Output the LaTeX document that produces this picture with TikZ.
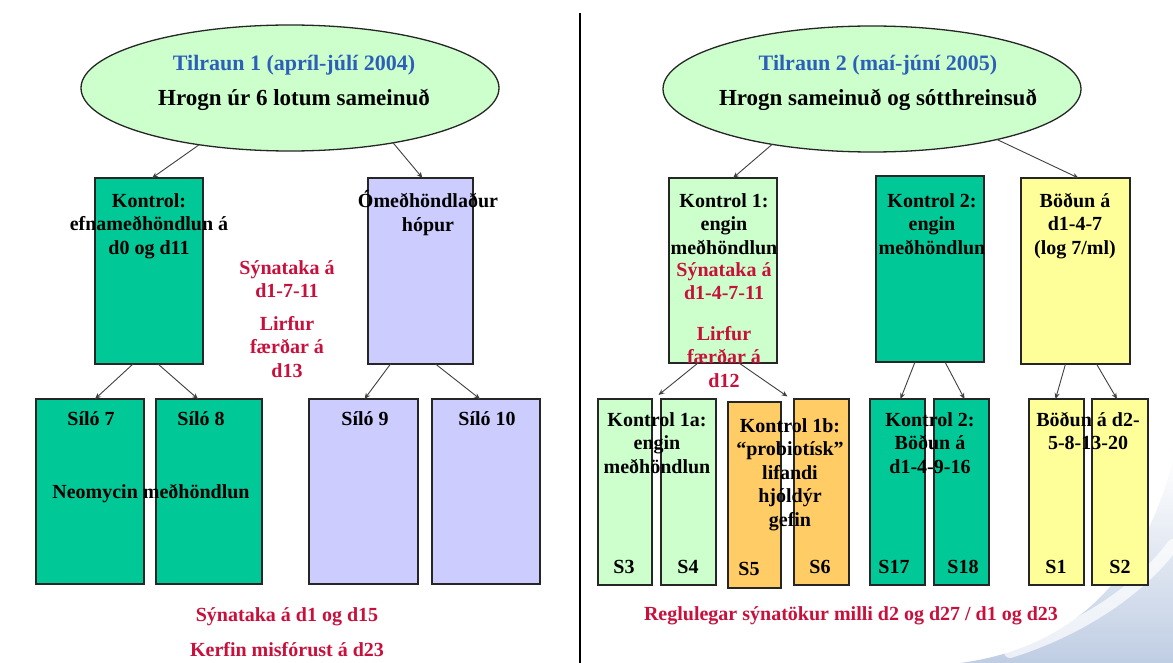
\documentclass[tikz,border=0pt]{standalone}
\usepackage{fontspec}
\setmainfont{Liberation Serif}
\usetikzlibrary{shapes.geometric,arrows.meta,calc}
\definecolor{tealg}{RGB}{0,200,150}
\definecolor{lav}{RGB}{204,204,255}
\definecolor{paleg}{RGB}{204,255,204}
\definecolor{orng}{RGB}{255,204,102}
\definecolor{yell}{RGB}{255,255,153}
\definecolor{redt}{RGB}{200,16,60}
\definecolor{bluet}{RGB}{45,95,185}
\definecolor{swirl}{RGB}{140,165,205}
\begin{document}
\begin{tikzpicture}[x=1pt,y=-1pt,
  ell/.style={ellipse, draw=black!85, line width=1.3pt, fill=paleg, minimum width=418pt, minimum height=126pt, inner sep=0pt, outer sep=0pt},
  box/.style={rectangle, draw=black!85, line width=1.3pt, inner sep=0pt, outer sep=0pt},
  bigbox/.style={box, minimum width=108pt, minimum height=186pt},
  slimbox/.style={box, minimum width=55pt, minimum height=186pt},
  bt/.style={font=\fontsize{20}{23.5}\selectfont\bfseries, align=center, inner sep=0pt, text=black},
  rt/.style={bt, text=redt},
  ttl/.style={font=\fontsize{22}{26}\selectfont\bfseries, text=bluet, anchor=base, inner sep=0pt},
  sub/.style={font=\fontsize{23}{27}\selectfont\bfseries, anchor=base, inner sep=0pt},
  arr/.style={draw=black!75, line width=0.9pt, -{Stealth[length=6pt,width=5pt]}},
  ]
\useasboundingbox (0,0) rectangle (1173,663);
\fill[white] (0,0) rectangle (1173,663);
% background swirl
\shade[top color=white, bottom color=swirl, opacity=0.55] (960,663) .. controls (1060,650) and (1140,590) .. (1173,460) -- (1173,663) -- cycle;
\draw[white, line width=12pt, opacity=0.7, line cap=round] (1010,652) .. controls (1080,630) and (1140,590) .. (1173,545);
% divider
\draw[line width=2pt] (580,13) -- (580,663);

% ---------- left experiment ----------
\node[ell] (e1) at (290,88) {};
\node[ttl] (t1) at (294,71) {Tilraun 1 (apríl-júlí 2004)};
\node[sub] (h1) at (294,106) {Hrogn úr 6 lotum sameinuð};

\node[bigbox, fill=tealg] (kon) at (149,271) {};
\node[bigbox, minimum width=105pt, fill=lav] (om) at (420.5,271) {};

\node[bigbox, minimum height=185pt, fill=tealg] (s7) at (90,491.5) {};
\node[bigbox, minimum width=106pt, minimum height=185pt, fill=tealg] (s8) at (209,491.5) {};
\node[bigbox, minimum width=109pt, minimum height=185pt, fill=lav] (s9) at (363.5,491.5) {};
\node[bigbox, minimum height=185pt, fill=lav] (s10) at (486,491.5) {};

\node[bt, anchor=north] (kontxt) at (149,190.5) {\strut Kontrol:\\efnameðhöndlun á\\d0 og d11};
\node[bt, anchor=north] (omtxt) at (428,190.5) {\strut Ómeðhöndlaður\\hópur};
\node[rt, anchor=north] (rl1) at (287,257.5) {\strut Sýnataka á\\d1-7-11};
\node[rt, anchor=north] (rl2) at (287,313.5) {\strut Lirfur\\færðar á\\d13};

\node[bt, anchor=base] (l7) at (91,425) {Síló 7};
\node[bt, anchor=base] (l8) at (201,425) {Síló 8};
\node[bt, anchor=base] (l9) at (365,425) {Síló 9};
\node[bt, anchor=base] (l10) at (487,425) {Síló 10};
\node[bt, anchor=base] (neo) at (151,498) {Neomycin meðhöndlun};

\node[rt, anchor=base] (bl1) at (287,621) {Sýnataka á d1 og d15};
\node[rt, anchor=base] (bl2) at (287,656) {Kerfin misfórust á d23};

\draw[arr] (e1.212) -- ($(kon.north)+(3,0)$);
\draw[arr] (e1.332) -- ($(om.north)+(2,0)$);
\draw[arr] ($(kon.south)+(-16,0)$) -- ($(s7.north)+(5,0)$);
\draw[arr] ($(kon.south)+(9,0)$) -- ($(s8.north)+(-11,0)$);
\draw[arr] ($(om.south)+(-30,0)$) -- ($(s9.north)+(1,0)$);
\draw[arr] ($(om.south)+(15,0)$) -- ($(s10.north)+(-6,0)$);

% ---------- right experiment ----------
\node[ell] (e2) at (872,89) {};
\node[ttl] (t2) at (878,71) {Tilraun 2 (maí-júní 2005)};
\node[sub] (h2) at (878,106) {Hrogn sameinuð og sótthreinsuð};

\node[bigbox, minimum height=185pt, fill=paleg] (k1) at (723,270.5) {};
\node[bigbox, fill=tealg] (k2) at (930,269) {};
\node[bigbox, minimum width=109pt, fill=yell] (bo) at (1075.5,271) {};

\node[slimbox, minimum width=54pt, fill=paleg] (s3) at (625,492) {};
\node[slimbox, fill=paleg] (s4) at (688.5,492) {};
\node[slimbox, minimum width=53pt, fill=orng] (s5) at (754.5,495) {};
\node[slimbox, fill=orng] (s6) at (821.5,492) {};
\node[slimbox, fill=tealg] (s17) at (897.5,492) {};
\node[slimbox, fill=tealg] (s18) at (961.5,492) {};
\node[slimbox, fill=yell] (s1) at (1056.5,492) {};
\node[slimbox, minimum width=56pt, fill=yell] (s2) at (1120,492) {};

\node[bt, anchor=north] (k1txt) at (724,190.5) {\strut Kontrol 1:\\engin\\meðhöndlun};
\node[rt, anchor=north] (rr1) at (724,259.5) {\strut Sýnataka á\\d1-4-7-11};
\node[rt, anchor=north] (rr2) at (724,323.5) {\strut Lirfur\\færðar á\\d12};
\node[bt, anchor=north] (k2txt) at (932,190.5) {\strut Kontrol 2:\\engin\\meðhöndlun};
\node[bt, anchor=north] (botxt) at (1075,190.5) {\strut Böðun á\\d1-4-7\\(log 7/ml)};

\node[bt, anchor=north] (t1a) at (657,409.5) {\strut Kontrol 1a:\\engin\\meðhöndlun};
\node[bt, anchor=north] (t1b) at (790,415.5) {\strut Kontrol 1b:\\“probiotísk”\\lifandi\\hjóldýr\\gefin};
\node[bt, anchor=north] (t2b) at (930,409.5) {\strut Kontrol 2:\\Böðun á\\d1-4-9-16};
\node[bt, anchor=north] (tbb) at (1088,409.5) {\strut Böðun á d2-\\5-8-13-20};

\node[bt, anchor=base] (n3) at (624,573) {S3};
\node[bt, anchor=base] (n4) at (688,573) {S4};
\node[bt, anchor=base] (n5) at (749,575) {S5};
\node[bt, anchor=base] (n6) at (820,573) {S6};
\node[bt, anchor=base] (n17) at (894,573) {S17};
\node[bt, anchor=base] (n18) at (963,573) {S18};
\node[bt, anchor=base] (n1) at (1056,573) {S1};
\node[bt, anchor=base] (n2) at (1120,573) {S2};

\node[rt, anchor=base] (br) at (851,620) {Reglulegar sýnatökur milli d2 og d27 / d1 og d23};

\coordinate (g34) at ($(s3.north east)!0.5!(s4.north west)$);
\coordinate (g56) at ($(s5.north east)!0.5!(s6.north west)$);
\draw[arr] (e2.209) -- ($(k1.north)+(10,0)$);
\draw[arr] (e2.338) -- ($(bo.north)+(3,0)$);
\draw[arr] ($(k1.south)+(-25,0)$) -- ($(g34)+(2,-4)$);
\draw[arr] ($(k1.south)+(16,0)$) -- ($(g56)+(0,-4)$);
\draw[arr] ($(k2.south)+(-15,0)$) -- ($(s17.north)+(3,0)$);
\draw[arr] ($(k2.south)+(15,0)$) -- ($(s18.north)+(3,0)$);
\draw[arr] ($(bo.south)+(-10,0)$) -- ($(s1.north)+(-1,0)$);
\draw[arr] ($(bo.south)+(21,0)$) -- ($(s2.north)+(-3,0)$);
\end{tikzpicture}
\end{document}
